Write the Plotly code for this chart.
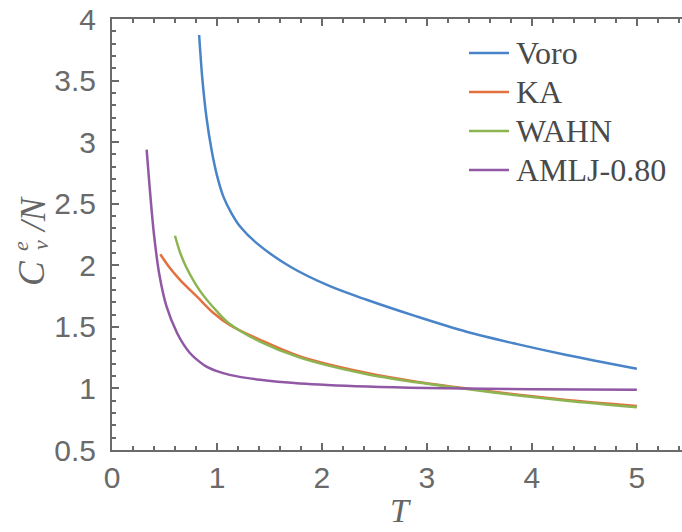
import plotly.graph_objects as go

# ---- data ----
voro_T = [0.83, 0.86, 0.90, 0.95, 1.0, 1.06, 1.14, 1.22, 1.378, 1.695, 2.076, 2.426, 2.9, 3.378, 3.85, 4.33, 5.0]
voro_C = [3.87, 3.52, 3.20, 2.93, 2.73, 2.56, 2.42, 2.315, 2.18, 1.99, 1.83, 1.72, 1.585, 1.46, 1.362, 1.272, 1.16]

ka_T = [0.46, 0.55, 0.65, 0.81, 0.97, 1.12, 1.41, 1.79, 2.43, 2.9, 3.38, 3.85, 4.33, 5.0]
ka_C = [2.09, 1.98, 1.88, 1.745, 1.61, 1.515, 1.395, 1.26, 1.125, 1.055, 1.0, 0.95, 0.907, 0.858]

wahn_T = [0.60, 0.65, 0.71, 0.84, 1.0, 1.12, 1.41, 1.79, 2.43, 2.9, 3.38, 3.85, 4.33, 5.0]
wahn_C = [2.24, 2.10, 1.98, 1.79, 1.625, 1.525, 1.38, 1.25, 1.115, 1.05, 0.995, 0.945, 0.9, 0.847]

amlj_T = [0.33, 0.36, 0.40, 0.45, 0.52, 0.62, 0.68, 0.74, 0.80, 0.90, 1.0, 1.12, 1.41, 1.79, 2.43, 3.0, 4.0, 5.0]
amlj_C = [2.94, 2.62, 2.25, 1.93, 1.665, 1.45, 1.36, 1.29, 1.24, 1.177, 1.14, 1.11, 1.07, 1.04, 1.015, 1.003, 0.994, 0.99]

names = ["Voro", "KA", "WAHN", "AMLJ-0.80"]
colors = ["#4A84C8", "#E3703F", "#8CB552", "#9058A5"]
series = [(voro_T, voro_C), (ka_T, ka_C), (wahn_T, wahn_C), (amlj_T, amlj_C)]

W, H = 682, 532
L, R, T_, B = 112, 0, 19, 82
pw, ph = W - L - R, H - T_ - B


def px_to_paper(px, py):
    return (px - L) / pw, (H - B - py) / ph


fig = go.Figure()
for (t, c), n, col in zip(series, names, colors):
    fig.add_trace(go.Scatter(x=t, y=c, mode="lines", name=n, showlegend=False,
                             line=dict(color=col, width=2.5, shape="spline", smoothing=0.9)))

axcol = "#6a6a6a"
tickfont = dict(family="Liberation Sans", size=30, color="#6a6a6a")
minor_x = dict(dtick=0.2, ticks="inside", ticklen=4, tickwidth=2, tickcolor=axcol, showgrid=False)

shapes = []
annotations = []

# manual legend
leg_y = [53, 92, 131, 170]
for n, col, yy in zip(names, colors, leg_y):
    x0, y0 = px_to_paper(469, yy)
    x1, _ = px_to_paper(509, yy)
    shapes.append(dict(type="line", xref="paper", yref="paper", x0=x0, x1=x1, y0=y0, y1=y0,
                       line=dict(color=col, width=2.5)))
    tx, ty = px_to_paper(514, yy)
    annotations.append(dict(text=n, xref="paper", yref="paper", x=tx, y=ty,
                            xanchor="left", yanchor="middle", showarrow=False,
                            font=dict(family="Liberation Serif", size=32, color="#4a4a4a")))

# axis titles
tfont = dict(family="Liberation Serif", color="#666666")
ax, ay = px_to_paper(400, 511)
annotations.append(dict(text="<i>T</i>", xref="paper", yref="paper", x=ax, y=ay,
                        xanchor="center", yanchor="middle", showarrow=False,
                        font=dict(size=34, **tfont)))
for txt, size, cx, cy in [("<i>C</i>", 37, 31, 273), ("<i>e</i>", 22, 20, 246),
                          ("<i>v</i>", 22, 40, 245), ("<i>/N</i>", 35, 33, 215)]:
    x_, y_ = px_to_paper(cx, cy)
    annotations.append(dict(text=txt, xref="paper", yref="paper", x=x_, y=y_, textangle=-90,
                            xanchor="center", yanchor="middle", showarrow=False,
                            font=dict(size=size, **tfont)))

fig.update_layout(
    width=W, height=H,
    margin=dict(l=L, r=R, t=T_, b=B, autoexpand=False),
    paper_bgcolor="white", plot_bgcolor="white",
    showlegend=False,
    xaxis=dict(range=[0, 5.43], showgrid=False, zeroline=False,
               showline=True, linecolor=axcol, linewidth=2, mirror="allticks",
               ticks="inside", ticklen=7, tickwidth=2, tickcolor=axcol,
               tick0=0, dtick=1, tickfont=tickfont, ticklabelstandoff=0,
               minor=minor_x),
    xaxis2=dict(range=[0, 5.43], overlaying="x", side="top", showgrid=False, zeroline=False,
                showline=True, linecolor=axcol, linewidth=2, showticklabels=False,
                ticks="inside", ticklen=7, tickwidth=2, tickcolor=axcol,
                tick0=0, dtick=1, minor=minor_x),
    yaxis=dict(range=[0.5, 4], showgrid=False, zeroline=False,
               showline=True, linecolor=axcol, linewidth=2,
               ticks="inside", ticklen=7, tickwidth=2, tickcolor=axcol,
               tick0=0.5, dtick=0.5, tickfont=tickfont, ticklabelstandoff=8,
               minor=dict(dtick=0.1, ticks="inside", ticklen=4, tickwidth=2,
                          tickcolor=axcol, showgrid=False)),
    shapes=shapes,
    annotations=annotations,
)
# an invisible trace so the top axis is drawn
fig.add_trace(go.Scatter(x=[0], y=[0.5], xaxis="x2", mode="markers",
                         marker=dict(opacity=0), showlegend=False, hoverinfo="skip"))

fig.write_html("out.html", config={"displayModeBar": False},
               post_script="document.body.style.margin='0px';")
